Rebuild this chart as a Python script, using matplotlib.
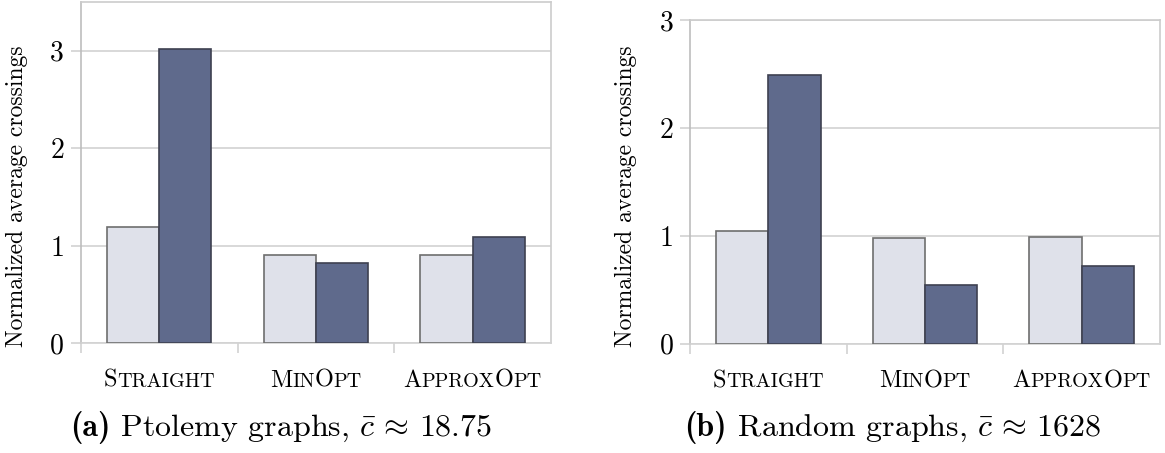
import matplotlib
matplotlib.use("Agg")
import matplotlib.pyplot as plt
from matplotlib.offsetbox import TextArea, HPacker, AnnotationBbox

plt.rcParams['mathtext.fontset'] = 'cm'
plt.rcParams['axes.formatter.use_mathtext'] = True

# data
cat_labels = [[("S", "TRAIGHT")], [("M", "IN"), ("O", "PT")], [("A", "PPROX"), ("O", "PT")]]
ptolemy_light = [1.19, 0.91, 0.91]
ptolemy_dark = [3.02, 0.82, 1.09]
random_light = [1.04, 0.98, 0.99]
random_dark = [2.49, 0.54, 0.72]
caption_tags = ["(a)", "(b)"]
caption_texts = [r" Ptolemy graphs, $\bar{c}\,\approx\,18.75$",
                 r" Random graphs, $\bar{c}\,\approx\,1628$"]

light_col = "#dfe1ea"
dark_col = "#5f6a8c"
grid_col = "#d2d2d2"
spine_col = "#bdbdbd"

fig = plt.figure(figsize=(11.65, 4.53), dpi=100)
ax1 = fig.add_axes([0.0693, 0.2422, 0.4037, 0.7534])
ax2 = fig.add_axes([0.5923, 0.2413, 0.4034, 0.7146])


def small_caps(parts, big=17.5, small=14.5):
    kids = []
    for cap, rest in parts:
        kids.append(TextArea(cap, textprops=dict(family="cmr10", size=big)))
        kids.append(TextArea(rest, textprops=dict(family="cmr10", size=small)))
    return HPacker(children=kids, align="baseline", pad=0, sep=0)


def panel(ax, light, dark, ymax, label_y):
    x = list(range(len(light)))
    ax.bar([i - 1 / 6 for i in x], light, width=1 / 3, color=light_col,
           edgecolor="#6e6e6e", linewidth=1.2, zorder=3)
    ax.bar([i + 1 / 6 for i in x], dark, width=1 / 3, color=dark_col,
           edgecolor="#3e4150", linewidth=1.2, zorder=3)
    ax.set_xlim(-0.5, 2.5)
    ax.set_ylim(0, ymax)
    ax.set_yticks(range(int(ymax) + 1))
    ax.set_yticklabels([str(v) for v in range(int(ymax) + 1)], family="cmr10", size=20)
    ax.tick_params(axis="y", length=7, color=grid_col, width=1.2, pad=5)
    ax.set_xticks([])
    ax.set_xticks([-0.5, 0.5, 1.5], minor=True)
    ax.tick_params(axis="x", which="minor", length=7.5, color=grid_col, width=1.2)
    ax.grid(axis="y", color=grid_col, linewidth=1.2, zorder=0)
    for s in ["top", "right"]:
        ax.spines[s].set_color("#cccccc")
        ax.spines[s].set_linewidth(1.2)
    ax.spines["left"].set_color(spine_col)
    ax.spines["left"].set_linewidth(1.2)
    ax.spines["bottom"].set_color(grid_col)
    ax.spines["bottom"].set_linewidth(1.2)
    ax.set_ylabel("Normalized average crossings", family="cmr10", size=17)
    ax.yaxis.set_label_coords(-0.113, label_y)
    for i, parts in enumerate(cat_labels):
        ab = AnnotationBbox(small_caps(parts), (i, 0), xycoords=("data", "axes fraction"),
                            xybox=(0, -27), boxcoords="offset points",
                            box_alignment=(0.5, 0.5), frameon=False)
        ax.add_artist(ab)


panel(ax1, ptolemy_light, ptolemy_dark, 3.5, 0.43)
panel(ax2, random_light, random_dark, 3, 0.455)

for xc, tag, txt in zip([0.2412, 0.7665], caption_tags, caption_texts):
    box = HPacker(children=[TextArea(tag, textprops=dict(family="cmb10", size=23)),
                            TextArea(txt, textprops=dict(family="cmr10", size=23))],
                  align="baseline", pad=0, sep=0)
    fig.add_artist(AnnotationBbox(box, (xc, 0.056), xycoords="figure fraction",
                                  box_alignment=(0.5, 0.5), frameon=False))

fig.savefig("out.png", dpi=100)
